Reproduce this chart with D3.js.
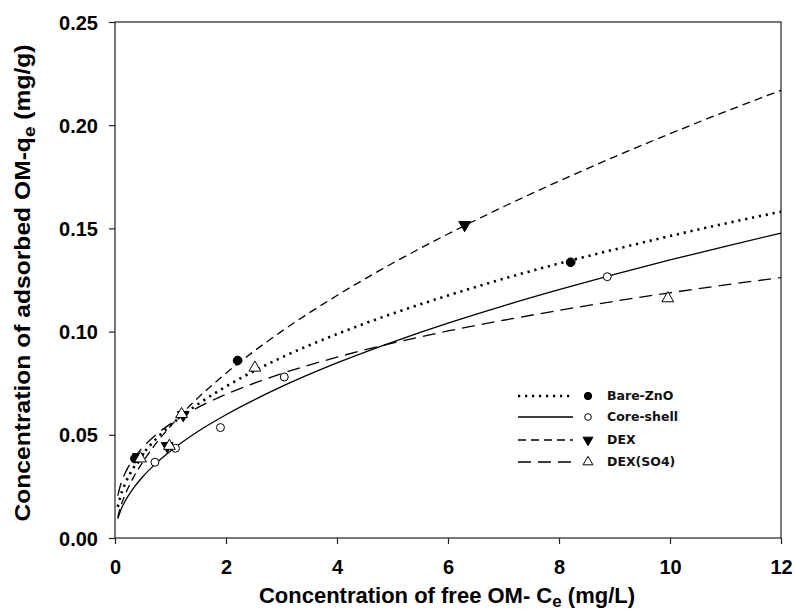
<!DOCTYPE html>
<html><head><meta charset="utf-8">
<script src="https://cdn.jsdelivr.net/npm/d3@7"></script>
<style>body{margin:0;background:#fff}</style>
</head><body><svg id="c" width="795" height="613"></svg>
<script>
// ---- data ----
const xTicks = [0, 2, 4, 6, 8, 10, 12];
const yTicks = [0.00, 0.05, 0.10, 0.15, 0.20, 0.25];
const seriesNames = ["Bare-ZnO", "Core-shell", "DEX", "DEX(SO4)"];

// measured points
const bareC = [0.36, 2.21, 8.21];
const bareQ = [0.0385, 0.0860, 0.1336];
const coreC = [0.72, 1.09, 1.90, 3.05, 8.87];
const coreQ = [0.0367, 0.0435, 0.0535, 0.0780, 0.1266];
const dexC = [0.42, 0.94, 1.23, 6.30];
const dexQ = [0.0392, 0.0446, 0.0596, 0.1517];
const so4C = [0.46, 0.98, 1.20, 2.52, 9.96];
const so4Q = [0.0385, 0.0446, 0.0600, 0.0825, 0.1161];

// fitted curves
const fitC    = [0.05, 0.1, 0.2, 0.35, 0.5, 0.75, 1, 1.5, 2, 3, 4, 5, 6, 7, 8, 9, 10, 11, 12];
const bareFit = [0.0151, 0.0204, 0.0273, 0.0348, 0.0406, 0.0483, 0.0546, 0.0649, 0.0734, 0.0874, 0.0988, 0.1087, 0.1175, 0.1256, 0.1330, 0.1398, 0.1463, 0.1524, 0.1581];
const coreFit = [0.0093, 0.0132, 0.0187, 0.0248, 0.0297, 0.0364, 0.0421, 0.0517, 0.0597, 0.0733, 0.0848, 0.0949, 0.1041, 0.1125, 0.1203, 0.1277, 0.1347, 0.1413, 0.1477];
const dexFit  = [0.0102, 0.0150, 0.0221, 0.0302, 0.0368, 0.0462, 0.0542, 0.0680, 0.0798, 0.1001, 0.1175, 0.1331, 0.1473, 0.1605, 0.1729, 0.1847, 0.1959, 0.2066, 0.2169];
const so4Fit  = [0.0205, 0.0257, 0.0324, 0.0390, 0.0439, 0.0503, 0.0553, 0.0633, 0.0696, 0.0796, 0.0876, 0.0944, 0.1003, 0.1055, 0.1103, 0.1147, 0.1188, 0.1226, 0.1262];

// ---- layout ----
const L = 115, R = 781, T = 22, B = 538;
const svg = d3.select("#c");
const x = d3.scaleLinear().domain([0, 12]).range([L, R]);
const y = d3.scaleLinear().domain([0, 0.25]).range([B, T]);

const styles = [
  {dash: "2.2,4.8", width: 2.6, sym: d3.symbolCircle, size: 60, fill: "#000", rot: 0},
  {dash: null, width: 1.3, sym: d3.symbolCircle, size: 50, fill: "#fff", rot: 0},
  {dash: "8,5", width: 1.3, sym: d3.symbolTriangle, size: 60, fill: "#000", rot: 180},
  {dash: "13,7", width: 1.3, sym: d3.symbolTriangle, size: 60, fill: "#fff", rot: 0}
];
const pts = [[bareC, bareQ], [coreC, coreQ], [dexC, dexQ], [so4C, so4Q]];
const fits = [bareFit, coreFit, dexFit, so4Fit];

// frame
svg.append("rect").attr("x", L).attr("y", T).attr("width", R - L).attr("height", B - T)
  .attr("fill", "none").attr("stroke", "#222").attr("stroke-width", 1.2);

// axes
const font = "'Liberation Sans', Arial, sans-serif";
const xa = svg.append("g").attr("transform", `translate(0,${B})`)
  .call(d3.axisBottom(x).tickValues(xTicks).tickSize(6).tickPadding(16).tickFormat(d3.format("d")));
const ya = svg.append("g").attr("transform", `translate(${L},0)`)
  .call(d3.axisLeft(y).tickValues(yTicks).tickSize(6).tickPadding(11).tickFormat(d3.format(".2f")));
[xa, ya].forEach(g => {
  g.select(".domain").remove();
  g.selectAll("line").attr("stroke", "#222").attr("stroke-width", 1.2);
  g.selectAll("text").attr("font-family", font).attr("font-weight", "bold")
    .attr("font-size", 20).attr("fill", "#000");
});
ya.selectAll("text").attr("dy", "0.35em");

// curves
const line = d3.line().curve(d3.curveMonotoneX).x(d => x(d[0])).y(d => y(d[1]));
fits.forEach((f, i) => {
  const s = styles[i];
  svg.append("path").datum(fitC.map((c, k) => [c, f[k]]))
    .attr("d", line).attr("fill", "none").attr("stroke", "#000")
    .attr("stroke-width", s.width).attr("stroke-dasharray", s.dash);
});

// points
pts.forEach((p, i) => {
  const s = styles[i];
  const sym = d3.symbol().type(s.sym).size(s.size);
  svg.append("g").selectAll("path").data(p[0].map((c, k) => [c, p[1][k]])).join("path")
    .attr("d", sym)
    .attr("transform", d => `translate(${x(d[0])},${y(d[1])}) rotate(${s.rot})`)
    .attr("fill", s.fill).attr("stroke", "#000").attr("stroke-width", 1);
});

// legend
const legY = [396, 417, 440, 462];
const lg = svg.append("g");
seriesNames.forEach((name, i) => {
  const s = styles[i];
  lg.append("line").attr("x1", 518).attr("x2", 573).attr("y1", legY[i]).attr("y2", legY[i])
    .attr("stroke", "#000").attr("stroke-width", s.width).attr("stroke-dasharray", s.dash);
  lg.append("path").attr("d", d3.symbol().type(s.sym).size(s.size * 0.7))
    .attr("transform", `translate(588,${legY[i]}) rotate(${s.rot})`)
    .attr("fill", s.fill).attr("stroke", "#000").attr("stroke-width", 1);
  lg.append("text").attr("x", 607).attr("y", legY[i]).attr("dy", "0.35em")
    .attr("font-family", "'DejaVu Sans', Verdana, sans-serif").attr("font-weight", "bold")
    .attr("font-size", 12.5).attr("fill", "#111").text(name);
});

// axis titles
const xt = svg.append("text").attr("x", 447).attr("y", 603).attr("text-anchor", "middle")
  .attr("font-family", font).attr("font-weight", "bold").attr("font-size", 22);
xt.append("tspan").text("Concentration of free OM- C");
xt.append("tspan").attr("font-size", 17).attr("dy", 4).text("e");
xt.append("tspan").attr("dy", -4).text(" (mg/L)");

const yt = svg.append("text").attr("transform", "translate(30,283) rotate(-90) scale(1.12,1)").attr("text-anchor", "middle")
  .attr("font-family", font).attr("font-weight", "bold").attr("font-size", 22);
yt.append("tspan").text("Concentration of adsorbed OM-q");
yt.append("tspan").attr("font-size", 17).attr("dy", 5).text("e");
yt.append("tspan").attr("dy", -5).text(" (mg/g)");
</script></body></html>
